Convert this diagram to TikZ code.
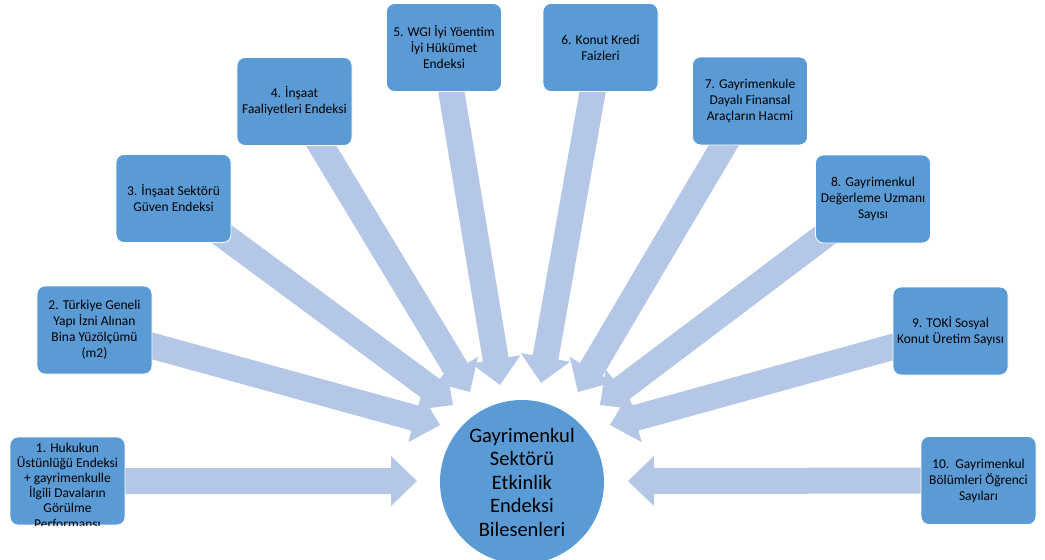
\documentclass[tikz,border=0pt]{standalone}
\usepackage{fontspec}
\setmainfont{Carlito}
\usetikzlibrary{calc,backgrounds}
\definecolor{boxblue}{HTML}{5B9BD5}
\definecolor{arrowblue}{HTML}{B4C7E7}
\tikzset{
 box/.style={fill=boxblue, draw=white, line width=0.8pt, rounded corners=8pt, minimum width=115pt, minimum height=88pt, align=center, font=\fontsize{13.5}{16}\selectfont, inner sep=2pt},
 boxtext/.style={align=center, font=\fontsize{13.5}{15.2}\selectfont, inner sep=0pt},
 hub/.style={circle, fill=boxblue, minimum size=164pt, align=center, font=\fontsize{20.5}{23.5}\selectfont, inner sep=0pt},
 blockfill/.style={fill=arrowblue}
}
\newcommand\blockarrow[2]{%
 \coordinate (hb) at ($(#2)!26pt!(#1)$);
 \fill[blockfill] ($(#1)!13pt!90:(#2)$) -- ($(hb)!13pt!-90:(#1)$) -- ($(hb)!25pt!-90:(#1)$) -- (#2) -- ($(hb)!25pt!90:(#1)$) -- ($(hb)!13pt!90:(#1)$) -- ($(#1)!13pt!-90:(#2)$) -- cycle;}
\begin{document}
\begin{tikzpicture}[x=1pt,y=-1pt]
\clip (0,0) rectangle (1045,560);
\useasboundingbox (0,0) rectangle (1045,560);

\node[box] (b1) at (67.5,481) {};
\begin{scope}
\clip[rounded corners=8pt] (b1.south west) rectangle (b1.north east);
\node[boxtext, anchor=north] (b1txt) at ($(b1.north)+(0,6)$) {1. Hukukun\\Üstünlüğü Endeksi\\+ gayrimenkulle\\İlgili Davaların\\Görülme\\Performansı};
\end{scope}
\node[box] (b2) at (94.5,330) {2. Türkiye Geneli\\Yapı İzni Alınan\\Bina Yüzölçümü\\(m2)};
\node[box] (b3) at (173.5,198.5) {3. İnşaat Sektörü\\Güven Endeksi};
\node[box] (b4) at (294.5,101.5) {4. İnşaat\\Faaliyetleri Endeksi};
\node[box] (b5) at (444,47.5) {5. WGI İyi Yöentim\\İyi Hükümet\\Endeksi};
\node[box] (b6) at (600.5,47.5) {6. Konut Kredi\\Faizleri};
\node[box] (b7) at (750,101) {7. Gayrimenkule\\Dayalı Finansal\\Araçların Hacmi};
\node[box] (b8) at (873,199) {8. Gayrimenkul\\Değerleme Uzmanı\\Sayısı};
\node[box] (b9) at (950.5,331) {9. TOKİ Sosyal\\Konut Üretim Sayısı};
\node[box] (b10) at (978.5,480.5) {10.\ \ Gayrimenkul\\Bölümleri Öğrenci\\Sayıları};
\node[hub] (hub) at (522,482) {Gayrimenkul\\Sektörü\\Etkinlik\\Endeksi\\Bilesenleri};

\coordinate (t1) at (417,481);
\coordinate (t2) at (440,425);
\coordinate (t3) at (453,405);
\coordinate (t4) at (470,392);
\coordinate (t5) at (500,385);
\coordinate (t6) at (541,383);
\coordinate (t7) at (578,392);
\coordinate (t8) at (600,405);
\coordinate (t9) at (610,425);
\coordinate (t10) at (628,481);

\begin{scope}[on background layer]
\blockarrow{b1}{t1}
\blockarrow{b2}{t2}
\blockarrow{b3}{t3}
\blockarrow{b4}{t4}
\blockarrow{b5}{t5}
\blockarrow{b6}{t6}
\blockarrow{b7}{t7}
\blockarrow{b8}{t8}
\blockarrow{b9}{t9}
\blockarrow{b10}{t10}
\end{scope}
\end{tikzpicture}
\end{document}
